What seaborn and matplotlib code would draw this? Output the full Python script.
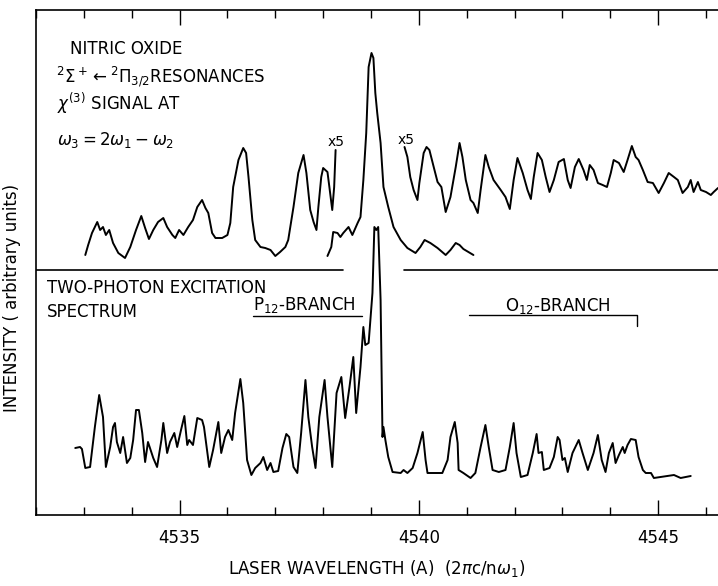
import numpy as np
import pandas as pd
import matplotlib
matplotlib.use("Agg")
import matplotlib.pyplot as plt
from matplotlib.ticker import MultipleLocator
import seaborn as sns

# two-photon excitation spectrum (lower trace)
tp_wl = [4532.82, 4532.92, 4532.96, 4533.03, 4533.13, 4533.23, 4533.32, 4533.40, 4533.46, 4533.55,
         4533.61, 4533.65, 4533.69, 4533.76, 4533.82, 4533.90, 4533.97, 4534.03, 4534.09, 4534.15,
         4534.22, 4534.28, 4534.34, 4534.45, 4534.53, 4534.62, 4534.66, 4534.74, 4534.80, 4534.89,
         4534.95, 4535.03, 4535.10, 4535.16, 4535.20, 4535.28, 4535.37, 4535.47, 4535.51, 4535.58,
         4535.62, 4535.70, 4535.81, 4535.87, 4535.95, 4536.02, 4536.10, 4536.16, 4536.27, 4536.33,
         4536.41, 4536.50, 4536.58, 4536.69, 4536.75, 4536.83, 4536.90, 4536.96, 4537.06, 4537.15,
         4537.23, 4537.29, 4537.38, 4537.46, 4537.54, 4537.63, 4537.69, 4537.77, 4537.84, 4537.92,
         4538.03, 4538.09, 4538.19, 4538.28, 4538.38, 4538.46, 4538.55, 4538.63, 4538.69, 4538.78,
         4538.84, 4538.88, 4538.95, 4539.03, 4539.07, 4539.11, 4539.15, 4539.20, 4539.24, 4539.26,
         4539.30, 4539.36, 4539.45, 4539.62, 4539.68, 4539.76, 4539.87, 4539.97, 4540.08, 4540.14,
         4540.18, 4540.31, 4540.49, 4540.60, 4540.66, 4540.75, 4540.81, 4540.83, 4540.93, 4541.08,
         4541.18, 4541.29, 4541.39, 4541.46, 4541.54, 4541.67, 4541.81, 4541.90, 4541.98, 4542.04,
         4542.13, 4542.27, 4542.38, 4542.46, 4542.50, 4542.57, 4542.61, 4542.73, 4542.82, 4542.90,
         4542.94, 4543.00, 4543.05, 4543.11, 4543.21, 4543.34, 4543.42, 4543.53, 4543.65, 4543.74,
         4543.82, 4543.90, 4543.97, 4544.05, 4544.11, 4544.18, 4544.26, 4544.30, 4544.36, 4544.43,
         4544.53, 4544.59, 4544.68, 4544.74, 4544.85, 4544.91, 4545.05, 4545.20, 4545.33, 4545.47,
         4545.58, 4545.68]
tp_int = [1.34, 1.36, 1.32, 0.94, 0.96, 1.76, 2.40, 1.96, 0.96, 1.36,
          1.76, 1.84, 1.46, 1.24, 1.56, 1.04, 1.14, 1.50, 2.10, 2.10,
          1.64, 1.06, 1.46, 1.14, 0.96, 1.50, 1.84, 1.24, 1.46, 1.64,
          1.36, 1.70, 1.98, 1.40, 1.50, 1.40, 1.94, 1.90, 1.76, 1.24,
          0.96, 1.30, 1.86, 1.24, 1.56, 1.70, 1.50, 2.04, 2.72, 2.24,
          1.10, 0.80, 0.94, 1.04, 1.16, 0.90, 1.04, 0.86, 0.88, 1.34,
          1.62, 1.56, 0.96, 0.84, 1.64, 2.70, 1.96, 1.36, 0.94, 1.96,
          2.70, 1.96, 0.96, 2.44, 2.76, 1.94, 2.56, 3.16, 2.04, 2.96,
          3.76, 3.40, 3.44, 4.44, 5.76, 5.70, 5.76, 4.30, 1.56, 1.76,
          1.50, 1.16, 0.86, 0.84, 0.90, 0.84, 0.94, 1.24, 1.66, 1.10,
          0.84, 0.84, 0.84, 1.10, 1.56, 1.86, 1.44, 0.90, 0.84, 0.74,
          0.84, 1.36, 1.80, 1.36, 0.90, 0.86, 0.90, 1.36, 1.84, 1.24,
          0.76, 0.80, 1.24, 1.62, 1.24, 1.26, 0.90, 0.94, 1.16, 1.56,
          1.50, 1.10, 1.14, 0.86, 1.24, 1.50, 1.24, 0.90, 1.24, 1.60,
          1.10, 0.86, 1.24, 1.44, 1.04, 1.20, 1.36, 1.24, 1.40, 1.52,
          1.50, 1.16, 0.90, 0.84, 0.84, 0.74, 0.76, 0.78, 0.80, 0.74,
          0.76, 0.78]

# chi(3) signal, left part (x5)
chi_a_wl = [4533.03, 4533.09, 4533.17, 4533.28, 4533.34, 4533.40, 4533.46, 4533.53, 4533.61, 4533.72,
            4533.86, 4533.97, 4534.09, 4534.20, 4534.28, 4534.36, 4534.45, 4534.55, 4534.66, 4534.74,
            4534.85, 4534.91, 4534.99, 4535.08, 4535.18, 4535.28, 4535.37, 4535.47, 4535.54, 4535.60,
            4535.68, 4535.75, 4535.89, 4536.00, 4536.06, 4536.12, 4536.23, 4536.33, 4536.39, 4536.44,
            4536.52, 4536.58, 4536.69, 4536.79, 4536.90, 4537.00, 4537.10, 4537.21, 4537.27, 4537.38,
            4537.48, 4537.59, 4537.65, 4537.73, 4537.80, 4537.86, 4537.90, 4537.96, 4538.00, 4538.09,
            4538.13, 4538.19, 4538.23, 4538.26]
chi_a_int = [5.20, 5.40, 5.64, 5.86, 5.70, 5.76, 5.60, 5.70, 5.44, 5.24,
             5.14, 5.36, 5.70, 5.98, 5.74, 5.52, 5.70, 5.86, 5.94, 5.76,
             5.60, 5.54, 5.70, 5.60, 5.76, 5.90, 6.16, 6.30, 6.14, 6.04,
             5.64, 5.54, 5.54, 5.60, 5.84, 6.56, 7.10, 7.34, 7.24, 6.76,
             5.90, 5.50, 5.36, 5.34, 5.30, 5.18, 5.26, 5.36, 5.50, 6.16,
             6.84, 7.20, 6.84, 6.10, 5.86, 5.70, 6.16, 6.76, 6.94, 6.86,
             6.56, 6.10, 6.56, 7.30]

# chi(3) signal, main resonance (x1)
chi_b_wl = [4538.09, 4538.17, 4538.21, 4538.30, 4538.36, 4538.42, 4538.53, 4538.61, 4538.72, 4538.78,
            4538.84, 4538.90, 4538.95, 4539.01, 4539.05, 4539.09, 4539.13, 4539.20, 4539.26, 4539.36,
            4539.47, 4539.62, 4539.76, 4539.93, 4540.03, 4540.12, 4540.24, 4540.39, 4540.56, 4540.66,
            4540.77, 4540.85, 4540.93, 4541.14]
chi_b_int = [5.18, 5.36, 5.66, 5.64, 5.56, 5.64, 5.76, 5.60, 5.84, 5.96,
             6.70, 7.64, 8.96, 9.24, 9.14, 8.44, 8.04, 7.44, 6.56, 6.16,
             5.76, 5.50, 5.34, 5.24, 5.36, 5.50, 5.44, 5.34, 5.20, 5.30,
             5.44, 5.40, 5.32, 5.20]

# chi(3) signal, right part (x5)
chi_c_wl = [4539.70, 4539.76, 4539.82, 4539.89, 4539.97, 4540.01, 4540.10, 4540.16, 4540.22, 4540.31,
            4540.39, 4540.47, 4540.56, 4540.66, 4540.77, 4540.85, 4540.91, 4540.98, 4541.08, 4541.14,
            4541.23, 4541.29, 4541.39, 4541.46, 4541.56, 4541.71, 4541.81, 4541.90, 4541.98, 4542.06,
            4542.17, 4542.27, 4542.34, 4542.40, 4542.48, 4542.57, 4542.65, 4542.73, 4542.82, 4542.92,
            4543.03, 4543.11, 4543.17, 4543.26, 4543.34, 4543.44, 4543.51, 4543.57, 4543.65, 4543.74,
            4543.84, 4543.93, 4544.01, 4544.07, 4544.18, 4544.28, 4544.36, 4544.45, 4544.53, 4544.59,
            4544.68, 4544.78, 4544.89, 4545.01, 4545.12, 4545.22, 4545.33, 4545.41, 4545.51, 4545.62,
            4545.68, 4545.74, 4545.83, 4545.89, 4546.00, 4546.10, 4546.16, 4546.25]
chi_c_int = [7.36, 7.16, 6.76, 6.50, 6.30, 6.64, 7.24, 7.36, 7.30, 6.96,
             6.66, 6.56, 6.06, 6.36, 6.96, 7.44, 7.16, 6.70, 6.30, 6.24,
             6.04, 6.50, 7.20, 6.96, 6.70, 6.50, 6.36, 6.12, 6.70, 7.14,
             6.84, 6.50, 6.32, 6.76, 7.24, 7.10, 6.76, 6.46, 6.70, 7.06,
             7.12, 6.70, 6.54, 6.96, 7.12, 6.90, 6.70, 7.00, 6.90, 6.64,
             6.60, 6.56, 6.84, 7.10, 7.04, 6.86, 7.10, 7.38, 7.16, 7.10,
             6.90, 6.66, 6.64, 6.44, 6.64, 6.84, 6.76, 6.70, 6.44, 6.56,
             6.70, 6.46, 6.66, 6.50, 6.46, 6.40, 6.46, 6.54]

sns.set_style("white")
plt.rcParams["font.family"] = ["DejaVu Sans"]
plt.rcParams["mathtext.fontset"] = "dejavusans"
plt.rcParams["text.color"] = "black"
plt.rcParams["axes.labelcolor"] = "black"
plt.rcParams["xtick.color"] = "black"

fig = plt.figure(figsize=(7.18, 5.86), dpi=100)
ax = fig.add_axes([36 / 718, 71 / 586, 1 - 36 / 718, 505 / 586])

lw = 1.4
for wl, it in [(tp_wl, tp_int), (chi_a_wl, chi_a_int), (chi_b_wl, chi_b_int), (chi_c_wl, chi_c_int)]:
    sns.lineplot(x=wl, y=it, ax=ax, color="black", linewidth=lw, estimator=None, sort=False)

# separator between the two panels
ax.plot([4532.0, 4538.42], [4.90, 4.90], color="black", lw=1.2)
ax.plot([4539.68, 4546.3], [4.90, 4.90], color="black", lw=1.2)

# branch brackets
ax.plot([4536.54, 4538.82], [3.98, 3.98], color="black", lw=1.0)
ax.plot([4541.04, 4544.55, 4544.55], [4.00, 4.00, 3.78], color="black", lw=1.0)

fs = 12
ax.text(4532.71, 9.32, "NITRIC OXIDE", fontsize=fs, va="center")
ax.text(4532.42, 8.76, r"$^2\Sigma^+\leftarrow{}^2\Pi_{3/2}$RESONANCES", fontsize=fs, va="center")
ax.text(4532.44, 8.24, r"$\chi^{(3)}$ SIGNAL AT", fontsize=fs, va="center")
ax.text(4532.44, 7.50, r"$\omega_3=2\omega_1-\omega_2$", fontsize=fs, va="center")
ax.text(4538.26, 7.46, "x5", fontsize=10, ha="center", va="center")
ax.text(4539.74, 7.50, "x5", fontsize=10, ha="center", va="center")
ax.text(4532.23, 4.54, "TWO-PHOTON EXCITATION", fontsize=fs, va="center")
ax.text(4532.23, 4.06, "SPECTRUM", fontsize=fs, va="center")
ax.text(4536.54, 4.20, r"P$_{12}$-BRANCH", fontsize=fs, va="center")
ax.text(4541.79, 4.18, r"O$_{12}$-BRANCH", fontsize=fs, va="center")

ax.set_xlim(4532.0, 4546.25)
ax.set_ylim(0, 10.1)
ax.xaxis.set_major_locator(MultipleLocator(5))
ax.xaxis.set_minor_locator(MultipleLocator(1))
ax.set_yticks([])
ax.tick_params(axis="x", which="both", direction="in", top=True, bottom=True,
               labelsize=12, pad=10, color="black", labelcolor="black")
ax.tick_params(axis="x", which="major", length=11, width=1.0)
ax.tick_params(axis="x", which="minor", length=6, width=1.0)
for side in ["left", "top", "bottom"]:
    ax.spines[side].set_color("black")
    ax.spines[side].set_linewidth(1.2)
ax.spines["right"].set_visible(False)

ax.set_xlabel(r"LASER WAVELENGTH (A)  (2$\pi$c/n$\omega_1$)", fontsize=12, labelpad=8)
ax.set_ylabel("INTENSITY ( arbitrary units)", fontsize=12)
ax.yaxis.set_label_coords(-0.022, 0.43)

fig.savefig("out.png", dpi=100)
